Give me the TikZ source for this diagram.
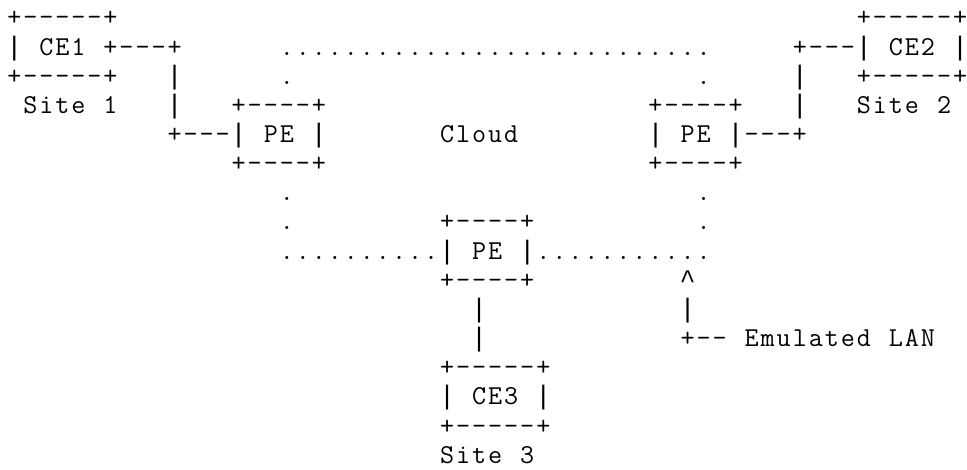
\documentclass[tikz,border=0pt]{standalone}
\usepackage{fontspec}
\newfontfamily\libm{Liberation Mono}[Ligatures=TeXOff]
\newcommand\cellw{16.03pt}
\newcommand\vb{{\libm\fontsize{26.72}{29}\selectfont|}}
\newcommand\ca{{\libm\fontsize{26.72}{29}\selectfont\textasciicircum}}
\def\asccells#1{\asccellloop#1\relax}
\def\asccellloop#1{\ifx#1\relax\else\makebox[\cellw]{#1}\expandafter\asccellloop\fi}
\begin{document}
\begin{tikzpicture}[x=16.03pt,y=-29.15pt,
  asc/.style={font=\ttfamily\fontsize{27.3}{29}\selectfont, inner sep=0pt, outer sep=0pt, anchor=base west}]
\useasboundingbox (0pt,0pt) rectangle (967pt,-469pt);
\begin{scope}[shift={(6.3pt,-25.9pt)}]
% row 0
\node[asc] (ce1top) at (0,0) {\asccells{+-----+}};
\node[asc] (ce2top) at (53,0) {\asccells{+-----+}};
% row 1
\node[asc] (ce1mid) at (0,1) {\asccells{\vb~CE1~+---+}};
\node[asc] (cloudtop) at (17,1) {\asccells{...........................}};
\node[asc] (ce2mid) at (49,1) {\asccells{+---\vb~CE2~\vb}};
% row 2
\node[asc] (ce1bot) at (0,2) {\asccells{+-----+}};
\node[asc] (l1a) at (10,2) {\asccells{\vb}};
\node[asc] (d1a) at (17,2) {\asccells{.}};
\node[asc] (d2a) at (43,2) {\asccells{.}};
\node[asc] (l2a) at (49,2) {\asccells{\vb}};
\node[asc] (ce2bot) at (53,2) {\asccells{+-----+}};
% row 3
\node[asc] (site1) at (1,3) {\asccells{Site~1}};
\node[asc] (l1b) at (10,3) {\asccells{\vb}};
\node[asc] (pe1top) at (14,3) {\asccells{+----+}};
\node[asc] (pe2top) at (40,3) {\asccells{+----+}};
\node[asc] (l2b) at (49,3) {\asccells{\vb}};
\node[asc] (site2) at (53,3) {\asccells{Site~2}};
% row 4
\node[asc] (pe1mid) at (10,4) {\asccells{+---\vb~PE~\vb}};
\node[asc] (cloud) at (27,4) {\asccells{Cloud}};
\node[asc] (pe2mid) at (40,4) {\asccells{\vb~PE~\vb---+}};
% row 5
\node[asc] (pe1bot) at (14,5) {\asccells{+----+}};
\node[asc] (pe2bot) at (40,5) {\asccells{+----+}};
% row 6
\node[asc] (d1b) at (17,6) {\asccells{.}};
\node[asc] (d2b) at (43,6) {\asccells{.}};
% row 7
\node[asc] (d1c) at (17,7) {\asccells{.}};
\node[asc] (pe3top) at (27,7) {\asccells{+----+}};
\node[asc] (d2c) at (43,7) {\asccells{.}};
% row 8
\node[asc] (pe3mid) at (17,8) {\asccells{..........\vb~PE~\vb...........}};
% row 9
\node[asc] (pe3bot) at (27,9) {\asccells{+----+}};
\node[asc] (caret) at (42,9) {\asccells{\ca}};
% row 10
\node[asc] (l3a) at (29,10) {\asccells{\vb}};
\node[asc] (l4a) at (42,10) {\asccells{\vb}};
% row 11
\node[asc] (l3b) at (29,11) {\asccells{\vb}};
\node[asc] (elan) at (42,11) {\asccells{+--~Emulated~LAN}};
% rows 12-15
\node[asc] (ce3top) at (27,12) {\asccells{+-----+}};
\node[asc] (ce3mid) at (27,13) {\asccells{\vb~CE3~\vb}};
\node[asc] (ce3bot) at (27,14) {\asccells{+-----+}};
\node[asc] (site3) at (27,15) {\asccells{Site~3}};
\end{scope}
\end{tikzpicture}
\end{document}
